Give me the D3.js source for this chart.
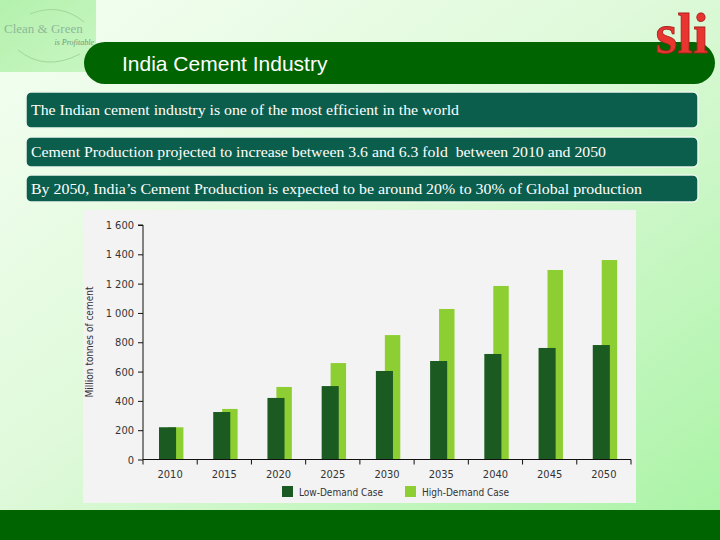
<!DOCTYPE html>
<html><head><meta charset="utf-8">
<script src="https://cdn.jsdelivr.net/npm/d3@7"></script>
<style>html,body{margin:0;padding:0;overflow:hidden;}svg{display:block;}</style>
</head><body>
<svg id="c" width="720" height="540"></svg>
<script>
const years = ["2010","2015","2020","2025","2030","2035","2040","2045","2050"];
const lowDemand = [220, 324, 420, 501, 604, 672, 720, 761, 781];
const highDemand = [220, 345, 495, 658, 849, 1027, 1184, 1293, 1361];
const yTicks = [0, 200, 400, 600, 800, 1000, 1200, 1400, 1600];
const seriesNames = ["Low-Demand Case", "High-Demand Case"];
const seriesColors = ["#1b5b22", "#8dcf32"];
const title = "India Cement Industry";
const bullets = [
  "The Indian cement industry is one of the most efficient in the world",
  "Cement Production projected to increase between 3.6 and 6.3 fold  between 2010 and 2050",
  "By 2050, India\u2019s Cement Production is expected to be around 20% to 30% of Global production"
];
const yTitle = "Million tonnes of cement";

const svg = d3.select("#c");
const defs = svg.append("defs");
const bg = defs.append("linearGradient").attr("id","bg").attr("x1","0").attr("y1","0").attr("x2","1").attr("y2","1");
bg.append("stop").attr("offset","0").attr("stop-color","#f4fff2");
bg.append("stop").attr("offset","0.45").attr("stop-color","#dff9da");
bg.append("stop").attr("offset","1").attr("stop-color","#a8f3a4");
svg.append("rect").attr("width",720).attr("height",540).attr("fill","url(#bg)");

// logo box top-left
const lg = defs.append("linearGradient").attr("id","lg").attr("x1","0").attr("y1","0").attr("x2","1").attr("y2","1");
lg.append("stop").attr("offset","0").attr("stop-color","#b4f1ad");
lg.append("stop").attr("offset","1").attr("stop-color","#c8f6c2");
svg.append("rect").attr("x",0).attr("y",0).attr("width",96).attr("height",72).attr("fill","url(#lg)");
svg.append("path").attr("d","M18,50 Q45,72 80,54").attr("fill","none").attr("stroke","#9fd89a").attr("stroke-width",1);
svg.append("path").attr("d","M30,14 Q60,2 84,22").attr("fill","none").attr("stroke","#9fd89a").attr("stroke-width",1);
svg.append("text").attr("x",4).attr("y",33).attr("font-family","Liberation Serif, serif").attr("font-size",13)
  .attr("fill","#8fb89a").text("Clean & Green");
svg.append("text").attr("x",94).attr("y",45).attr("text-anchor","end").attr("font-family","Liberation Serif, serif")
  .attr("font-style","italic").attr("font-size",8).attr("fill","#6f9a7a").text("is Profitable");

// title bar
svg.append("rect").attr("x",84).attr("y",42).attr("width",631).attr("height",42).attr("rx",21).attr("fill","#006400");
svg.append("text").attr("x",122).attr("y",71).attr("font-family","Liberation Sans, Arial, sans-serif")
  .attr("font-size",21).attr("fill","#ffffff").text(title);

// sli logo
svg.append("text").attr("x",682).attr("y",53).attr("text-anchor","middle").attr("font-family","Liberation Serif, serif")
  .attr("font-weight","bold").attr("font-size",56).attr("fill","#e8352f").attr("stroke","#a82020").attr("stroke-width",0.8)
  .text("sli");

// bullet boxes
const boxY = [92, 137, 175];
const boxH = [36, 30, 27];
const textLens = [428, 575, 611];
bullets.forEach((t,i)=>{
  svg.append("rect").attr("x",26).attr("y",boxY[i]).attr("width",672).attr("height",boxH[i]).attr("rx",5)
    .attr("fill","#0b5e4c").attr("stroke","#eaf8ea").attr("stroke-width",1.5);
  svg.append("text").attr("x",31).attr("y",boxY[i]+boxH[i]/2+5).attr("font-family","Liberation Serif, serif")
    .attr("font-size",14).attr("fill","#ffffff").style("white-space","pre")
    .attr("textLength",textLens[i]).attr("lengthAdjust","spacingAndGlyphs").text(t);
});

// chart panel
svg.append("rect").attr("x",83).attr("y",210).attr("width",553).attr("height",293).attr("fill","#f3f3f3");

const x = d3.scaleBand().domain(years).range([143, 631]).padding(0);
const y = d3.scaleLinear().domain([0,1600]).range([459.5, 225]);
const bw = x.bandwidth();
const fontAx = "Liberation Sans Narrow, DejaVu Sans Condensed, sans-serif";

const g = svg.append("g");
g.selectAll(".hi").data(years).enter().append("rect")
  .attr("x",d=>x(d)+bw*0.46).attr("width",bw*0.285)
  .attr("y",(d,i)=>y(highDemand[i])).attr("height",(d,i)=>y(0)-y(highDemand[i]))
  .attr("fill",seriesColors[1]);
g.selectAll(".lo").data(years).enter().append("rect")
  .attr("x",d=>x(d)+bw*0.295).attr("width",bw*0.315)
  .attr("y",(d,i)=>y(lowDemand[i])).attr("height",(d,i)=>y(0)-y(lowDemand[i]))
  .attr("fill",seriesColors[0]);

// y axis
const ya = svg.append("g").attr("transform","translate(143,0)")
  .call(d3.axisLeft(y).tickValues(yTicks).tickSize(5).tickPadding(4)
    .tickFormat(d=>d3.format(",")(d).replace(",", " ")));
ya.select(".domain").attr("stroke","#111").attr("d","M-5,225H0V459.5");
ya.selectAll(".tick line").attr("stroke","#111");
ya.selectAll("text").attr("font-family",fontAx).attr("font-size",11).attr("fill","#333");

// x axis with band-edge ticks
const xa = svg.append("g").attr("transform","translate(0,459.5)");
xa.append("line").attr("x1",143).attr("x2",631).attr("stroke","#111");
const edges = years.map(d=>x(d)).concat([631]);
xa.selectAll(".et").data(edges).enter().append("line")
  .attr("x1",d=>d).attr("x2",d=>d).attr("y1",0).attr("y2",5).attr("stroke","#111");
xa.selectAll(".lb").data(years).enter().append("text")
  .attr("x",d=>x(d)+bw/2).attr("y",18).attr("text-anchor","middle")
  .attr("font-family",fontAx).attr("font-size",11).attr("fill","#333").text(d=>d);

// y title
svg.append("text").attr("transform","translate(93,342) rotate(-90)").attr("text-anchor","middle")
  .attr("font-family",fontAx).attr("font-size",10).attr("fill","#333").text(yTitle);

// legend
const legX = [282, 405];
seriesNames.forEach((n,i)=>{
  svg.append("rect").attr("x",legX[i]).attr("y",486).attr("width",11).attr("height",11).attr("fill",seriesColors[i]);
  svg.append("text").attr("x",legX[i]+17).attr("y",495.5).attr("font-family",fontAx)
    .attr("font-size",10).attr("fill","#333").text(n);
});

// footer
svg.append("rect").attr("x",0).attr("y",510).attr("width",720).attr("height",30).attr("fill","#006400");
</script>
</body></html>
